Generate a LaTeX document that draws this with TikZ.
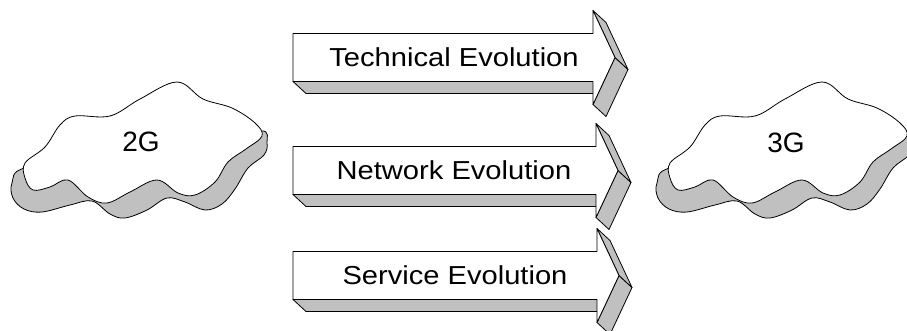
\documentclass[tikz,border=0pt]{standalone}
\usepackage{fontspec}
\setmainfont{Liberation Sans}
\newfontfamily\arrowfont[FakeStretch=1.12]{Liberation Sans}
\definecolor{sidegray}{RGB}{192,192,192}

\begin{document}
\begin{tikzpicture}[
        x=1pt, y=-1pt,
        line join=round,
        face/.style={draw=black, line width=0.8pt, fill=white},
        side/.style={draw=black, line width=0.8pt, fill=sidegray},
        gen/.style={font=\fontsize{28}{32}\selectfont, anchor=base, inner sep=0pt},
        evotext/.style={font=\arrowfont\fontsize{26}{30}\selectfont, anchor=base, inner sep=0pt},
        netcloud/.pic={
            \filldraw[side] plot[smooth cycle, tension=0.6] coordinates {
                (25,168) (12,183) (13,198) (24,209) (42,212) (70,205) (92,201)
                (110,214) (125,218) (147,210) (167,198) (185,202) (205,210)
                (222,204) (235,189) (248,168) (264,155) (267,143) (260,131)
                (200,150) (100,160)};
            \filldraw[face] plot[smooth cycle, tension=0.6] coordinates {
                (25,163) (45,147) (60,125) (75,116) (110,116) (140,99)
                (177,82) (203,99) (232,108) (255,123) (262,136)
                (246,149) (228,162) (215,182) (195,195) (178,193)
                (157,180) (130,192) (107,203) (88,197) (68,180)
                (50,187) (33,190) (25,178)};
        }
    ]
        \useasboundingbox (0,0) rectangle (907,331);

        % ========================================================
        % NUBES 2G / 3G
        % ========================================================
        \pic (cloudA) at (0,0) {netcloud};
        \pic (cloudB) at (645,0) {netcloud};

        \node[gen] (twoG) at (141,152) {2G};
        \node[gen] (threeG) at (786,153) {3G};

        % ========================================================
        % FLECHA: TECHNICAL
        % ========================================================
        \filldraw[side] (293,81.5) -- (593,81.5) -- ++(13,12) -- (306,93.5) -- cycle;
        \filldraw[side] (615,57.5) -- (593,104.5) -- ++(13,12) -- (628,69.5) -- cycle;
        \filldraw[side] (593,10.5) -- (615,57.5) -- ++(13,12) -- (606,22.5) -- cycle;
        \filldraw[face] (293,33.5) -- (593,33.5) -- (593,10.5) -- (615,57.5)
            -- (593,104.5) -- (593,81.5) -- (293,81.5) -- cycle;
        \node[evotext] (tech) at (454,66.5) {Technical Evolution};

        % ========================================================
        % FLECHA: NETWORK
        % ========================================================
        \filldraw[side] (293,194.5) -- (596,194.5) -- ++(13,12) -- (306,206.5) -- cycle;
        \filldraw[side] (618,170.5) -- (596,217.5) -- ++(13,12) -- (631,182.5) -- cycle;
        \filldraw[side] (596,123.5) -- (618,170.5) -- ++(13,12) -- (609,135.5) -- cycle;
        \filldraw[face] (293,146.5) -- (596,146.5) -- (596,123.5) -- (618,170.5)
            -- (596,217.5) -- (596,194.5) -- (293,194.5) -- cycle;
        \node[evotext] (netw) at (454,179.5) {Network Evolution};

        % ========================================================
        % FLECHA: SERVICE
        % ========================================================
        \filldraw[side] (293,299.5) -- (597,299.5) -- ++(13,12) -- (306,311.5) -- cycle;
        \filldraw[side] (619,275.5) -- (597,322.5) -- ++(13,12) -- (632,287.5) -- cycle;
        \filldraw[side] (597,228.5) -- (619,275.5) -- ++(13,12) -- (610,240.5) -- cycle;
        \filldraw[face] (293,251.5) -- (597,251.5) -- (597,228.5) -- (619,275.5)
            -- (597,322.5) -- (597,299.5) -- (293,299.5) -- cycle;
        \node[evotext] (serv) at (455,284.5) {Service Evolution};

    \end{tikzpicture}
\end{document}
